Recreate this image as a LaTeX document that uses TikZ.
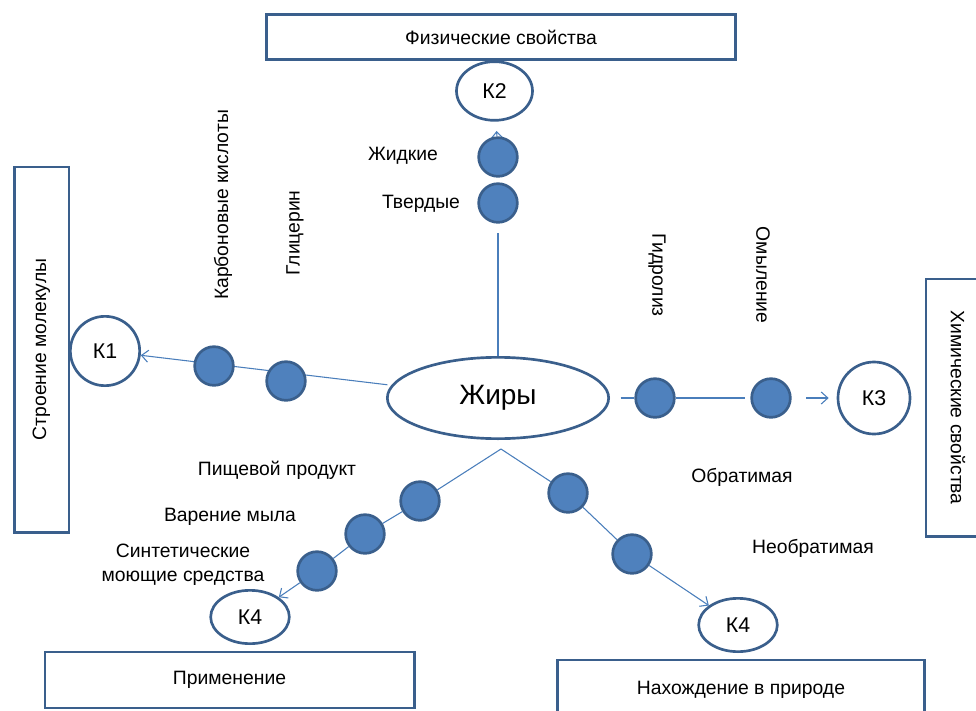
\documentclass[tikz,border=0pt]{standalone}
\usepackage{fontspec}
\setmainfont{Liberation Sans}
\usetikzlibrary{arrows.meta, shapes.geometric, backgrounds}
\definecolor{Edgecol}{HTML}{3A5F8C}
\definecolor{Dotcol}{HTML}{4F81BD}
\definecolor{Linkcol}{HTML}{4A7EBB}
\def\lblsize{\fontsize{14.5}{18}\selectfont}

\begin{document}
\begin{tikzpicture}[x=0.75pt, y=-0.75pt,
  every node/.style={font=\lblsize},
  titlebox/.style={draw=Edgecol, line width=2pt, inner sep=0pt},
  dot/.style={circle, draw=Edgecol, fill=Dotcol, line width=2pt, minimum size=29pt, inner sep=0pt},
  ring/.style={ellipse, draw=Edgecol, fill=white, line width=2pt, inner sep=0pt, font=\fontsize{16}{18}\selectfont},
  link/.style={draw=Linkcol, line width=0.8pt},
  >={Straight Barb[length=5pt, width=9pt]}]

  \useasboundingbox (0,0) rectangle (976,711);

  \node[titlebox, minimum width=352pt, minimum height=34pt] (phys) at (501,37) {Физические свойства};
  \node[titlebox, rotate=90, minimum width=274pt, minimum height=41pt] (mol) at (41.5,349.5) {Строение молекулы};
  \node[titlebox, rotate=-90, minimum width=193pt, minimum height=48pt] (chem) at (958,407.5) {Химические свойства};
  \node[titlebox, minimum width=277pt, minimum height=42pt] (appl) at (229.5,680) {Применение};
  \node[titlebox, minimum width=275pt, minimum height=45pt] (nature) at (741,690) {Нахождение в природе};

  \node[ring, minimum width=166pt, minimum height=61pt, font=\fontsize{21}{24}\selectfont] (fats) at (498,398) {Жиры};
  \node[ring, minimum width=57pt, minimum height=44pt] (k2) at (494.5,91) {К2};
  \node[ring, minimum size=52pt] (k1) at (105,351) {К1};
  \node[ring, minimum size=54pt] (k3) at (874,398) {К3};
  \node[ring, minimum width=59pt, minimum height=40pt] (k4a) at (250,617) {К4};
  \node[ring, minimum width=59pt, minimum height=40pt] (k4b) at (738,625) {К4};

  \node[dot] (liquid) at (498,157) {};
  \node[dot] (solid) at (498,203) {};
  \node[dot] (acids) at (214,366) {};
  \node[dot] (glycerol) at (286,381) {};
  \node[dot] (hydrolysis) at (655,398) {};
  \node[dot] (saponif) at (771,398) {};
  \node[dot] (reversible) at (568,493) {};
  \node[dot] (irreversible) at (632,554) {};
  \node[dot] (food) at (420,501) {};
  \node[dot] (soap) at (365,534) {};
  \node[dot] (detergent) at (317,571) {};

  \node (liquidlbl) at (403,156) {Жидкие};
  \node (solidlbl) at (421,204) {Твердые};
  \node[rotate=90] (acidslbl) at (223,205) {Карбоновые кислоты};
  \node[rotate=90] (glycerollbl) at (295,233) {Глицерин};
  \node[rotate=-90] (hydrolysislbl) at (657,275) {Гидролиз};
  \node[rotate=-90] (saponiflbl) at (763,275) {Омыление};
  \node (reversiblelbl) at (742,477) {Обратимая};
  \node (irreversiblelbl) at (813,548) {Необратимая};
  \node (foodlbl) at (277,470) {Пищевой продукт};
  \node (soaplbl) at (230,517) {Варение мыла};
  \node[align=center] (detergentlbl) at (183,565) {Синтетические\\моющие средства};

  \coordinate (fork) at (501,449);

  \begin{scope}[on background layer]
    \draw[link, shorten >=7pt] (fats) -- (solid);
    \draw[link, ->, shorten >=7pt] (liquid) -- (k2);
    \draw[link, ->, shorten <=3pt] (fats) -- (k1);
    \draw[link, shorten <=8pt] (fats) -- (hydrolysis);
    \draw[link, shorten >=4pt] (hydrolysis) -- (saponif);
    \draw[link, ->, shorten <=11pt, shorten >=6pt] (saponif) -- (k3);
    \draw[link, ->] (fork) -- (reversible) -- (irreversible) -- (k4b);
    \draw[link, ->] (fork) -- (food) -- (soap) -- (detergent) -- (k4a);
  \end{scope}
\end{tikzpicture}
\end{document}
